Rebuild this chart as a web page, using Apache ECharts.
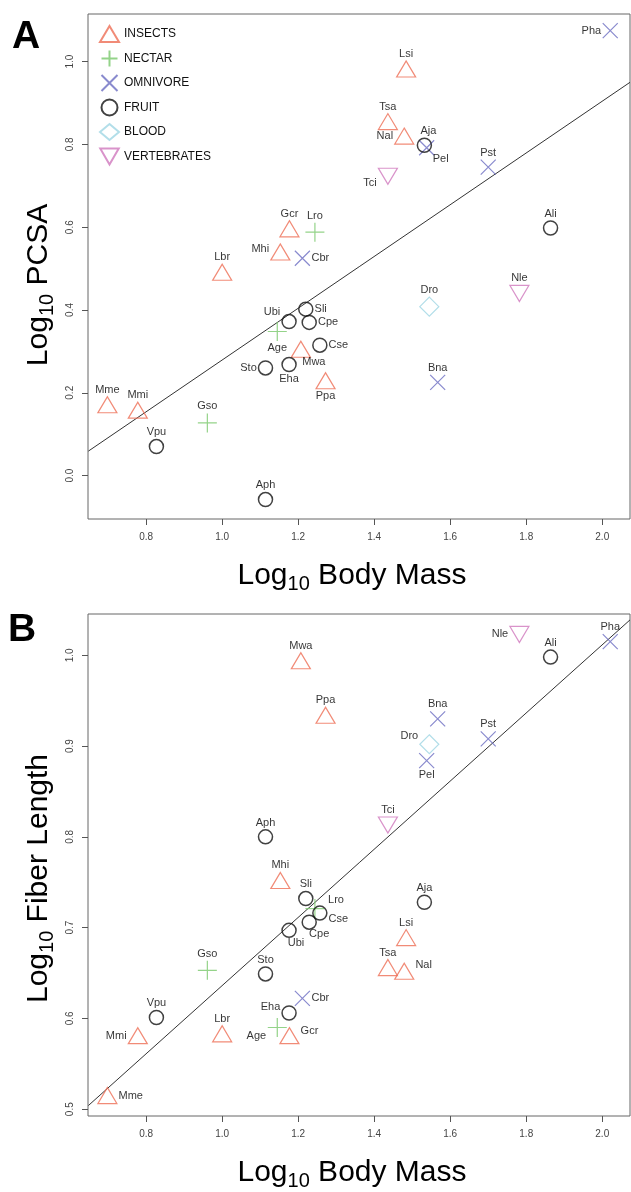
<!DOCTYPE html>
<html>
<head>
<meta charset="utf-8">
<script src="https://cdn.jsdelivr.net/npm/echarts@6/dist/echarts.min.js"></script>
<style>
  html, body { margin: 0; padding: 0; background: #fff; }
  #chart { width: 631px; height: 1192px; }
</style>
</head>
<body>
<div id="chart"></div>
<script>
// species, diet group and log10 values
const species = ['Mme','Mmi','Vpu','Gso','Lbr','Aph','Sto','Eha','Age','Ubi','Mhi','Gcr','Lro','Cbr','Sli','Cpe',
  'Cse','Mwa','Ppa','Tsa','Nal','Lsi','Tci','Aja','Pel','Pst','Dro','Bna','Nle','Ali','Pha'];
const diet = ['INSECTS','INSECTS','FRUIT','NECTAR','INSECTS','FRUIT','FRUIT','FRUIT','NECTAR','FRUIT','INSECTS',
  'INSECTS','NECTAR','OMNIVORE','FRUIT','FRUIT','FRUIT','INSECTS','INSECTS','INSECTS','INSECTS','INSECTS',
  'VERTEBRATES','FRUIT','OMNIVORE','OMNIVORE','BLOOD','OMNIVORE','VERTEBRATES','FRUIT','OMNIVORE'];
const logBodyMass = [0.698,0.778,0.827,0.961,1.000,1.114,1.114,1.176,1.145,1.176,1.153,1.177,1.244,1.211,1.220,1.229,
  1.257,1.207,1.272,1.436,1.479,1.484,1.436,1.532,1.538,1.700,1.545,1.567,1.782,1.864,2.021];
const logPCSA = [0.171,0.158,0.070,0.127,0.491,-0.058,0.260,0.268,0.348,0.372,0.540,0.596,0.588,0.525,0.402,0.370,
  0.315,0.305,0.229,0.855,0.820,0.982,0.723,0.798,0.792,0.745,0.408,0.225,0.440,0.598,1.075];
const logFiberLength = [0.515,0.581,0.601,0.653,0.583,0.800,0.649,0.606,0.590,0.697,0.752,0.581,0.721,0.622,0.732,
  0.706,0.716,0.994,0.934,0.656,0.652,0.689,0.813,0.728,0.884,0.908,0.902,0.930,1.023,0.998,1.015];

// regression lines (end points at the axis limits)
const fitPCSA = [[0.648, 0.059], [2.073, 0.950]];
const fitFiber = [[0.648, 0.504], [2.073, 1.039]];

const groups = ['INSECTS','NECTAR','OMNIVORE','FRUIT','BLOOD','VERTEBRATES'];
const xTicks = [0.8, 1.0, 1.2, 1.4, 1.6, 1.8, 2.0];
const yTicksPCSA = [0.0, 0.2, 0.4, 0.6, 0.8, 1.0];
const yTicksFiber = [0.5, 0.6, 0.7, 0.8, 0.9, 1.0];

// styling
const FONT = '"Liberation Sans", Arial, Helvetica, sans-serif';
const groupStyle = {
  INSECTS:     { symbol: 'triangle', size: [19, 16], color: '#ee6e55' },
  NECTAR:      { symbol: 'path://M5,0L5,10M0,5L10,5', size: 19, color: '#79c86b' },
  OMNIVORE:    { symbol: 'path://M0,0L10,10M10,0L0,10', size: 15, color: '#6b6dc2' },
  FRUIT:       { symbol: 'circle', size: 14, color: '#111111' },
  BLOOD:       { symbol: 'diamond', size: 19, color: '#9fd6e3' },
  VERTEBRATES: { symbol: 'path://M0,0L10,0L5,8.66Z', size: [19, 16], color: '#cf78bd' }
};
// label placement: position or [position, dx, dy]; default 'top'
const labelsPCSA = {
  Sto: 'left', Eha: 'bottom', Age: 'bottom', Ubi: ['left', 0, -10], Mhi: ['left', 0, -3], Cbr: 'right',
  Sli: 'right', Cpe: 'right', Cse: 'right', Mwa: ['bottom', 13, -2], Ppa: 'bottom', Nal: 'left',
  Tci: ['left', 0, 7], Aja: ['top', 4, 0], Pel: ['right', -3, 11], Pha: 'left'
};
const labelsFiber = {
  Mme: 'right', Mmi: 'left', Eha: ['left', 0, -6], Age: ['left', 0, 8], Gcr: ['right', 0, -5], Cbr: 'right',
  Ubi: ['bottom', 7, -2], Cpe: ['bottom', 10, -2], Cse: ['right', 0, 6], Lro: ['right', 2, -9],
  Nal: ['right', 0, -6], Pel: 'bottom', Dro: ['left', 0, -8], Nle: 'left'
};

function groupData(ys, labelMap, group) {
  const out = [];
  species.forEach((s, i) => {
    if (diet[i] !== group) return;
    const p = labelMap[s] || 'top';
    const pos = Array.isArray(p) ? p : [p, 0, 0];
    out.push({
      name: s,
      value: [logBodyMass[i], ys[i]],
      label: { position: pos[0], offset: [pos[1], pos[2]] }
    });
  });
  return out;
}

function panelSeries(idx, ys, labelMap, fit) {
  const list = groups.map(g => ({
    type: 'scatter',
    name: g,
    xAxisIndex: idx,
    yAxisIndex: idx,
    symbol: groupStyle[g].symbol,
    symbolSize: groupStyle[g].size,
    itemStyle: {
      color: 'transparent',
      borderColor: groupStyle[g].color,
      borderWidth: g === 'FRUIT' ? 1.5 : 1.2
    },
    label: {
      show: true,
      formatter: '{b}',
      color: '#000',
      fontSize: 11,
      fontFamily: FONT,
      distance: 1
    },
    emphasis: { disabled: true },
    data: groupData(ys, labelMap, g)
  }));
  list.push({
    type: 'line',
    xAxisIndex: idx,
    yAxisIndex: idx,
    data: fit,
    showSymbol: false,
    silent: true,
    lineStyle: { color: '#333', width: 1 },
    z: 1
  });
  return list;
}

function titleRich(shift) {
  return {
    a: { fontSize: 30, lineHeight: 36, fontFamily: FONT, color: '#000' },
    s: { fontSize: 20, lineHeight: 16, verticalAlign: 'bottom', fontFamily: FONT, color: '#000' },
    e: { fontSize: 30, lineHeight: 36, fontFamily: FONT, color: '#000', padding: [0, shift, 0, 0] }
  };
}

function xAxisCfg(gridIndex) {
  return {
    type: 'value',
    gridIndex: gridIndex,
    min: 0.647,
    max: 2.073,
    name: '{a|Log}{s|10}{e| Body Mass}',
    nameLocation: 'middle',
    nameGap: 39,
    nameTextStyle: { rich: titleRich(14) },
    axisLine: { show: false, onZero: false },
    splitLine: { show: false },
    axisTick: { show: true, inside: false, length: 6, customValues: xTicks, lineStyle: { color: '#555' } },
    axisLabel: {
      customValues: xTicks,
      margin: 13,
      fontSize: 10,
      color: '#444',
      fontFamily: FONT,
      formatter: v => v.toFixed(1)
    }
  };
}

function yAxisCfg(gridIndex, min, max, ticks, title, shift) {
  return {
    type: 'value',
    gridIndex: gridIndex,
    min: min,
    max: max,
    name: title,
    nameLocation: 'middle',
    nameGap: 28,
    nameTextStyle: { rich: titleRich(shift) },
    axisLine: { show: false, onZero: false },
    splitLine: { show: false },
    axisTick: { show: true, inside: false, length: 6, customValues: ticks, lineStyle: { color: '#555' } },
    axisLabel: {
      customValues: ticks,
      rotate: 90,
      margin: 13,
      fontSize: 10,
      color: '#444',
      fontFamily: FONT,
      formatter: v => v.toFixed(1)
    }
  };
}

const chart = echarts.init(document.getElementById('chart'), null, { renderer: 'canvas' });
chart.setOption({
  animation: false,
  backgroundColor: '#fff',
  grid: [
    { left: 88, top: 14, width: 542, height: 505, show: true, borderColor: '#666', borderWidth: 1, backgroundColor: 'transparent' },
    { left: 88, top: 614, width: 542, height: 505, show: true, borderColor: '#666', borderWidth: 1, backgroundColor: 'transparent' }
  ],
  xAxis: [xAxisCfg(0), xAxisCfg(1)],
  yAxis: [
    yAxisCfg(0, -0.105, 1.115, yTicksPCSA, '{a|Log}{s|10}{e| PCSA}', 37),
    yAxisCfg(1, 0.4925, 1.0455, yTicksFiber, '{a|Log}{s|10}{e| Fiber Length}', 27)
  ],
  legend: {
    orient: 'vertical',
    left: 94,
    top: 20,
    itemWidth: 19,
    itemHeight: 16,
    itemGap: 6.5,
    selectedMode: false,
    data: groups,
    textStyle: { fontSize: 12, color: '#111', fontFamily: FONT }
  },
  graphic: [
    { type: 'text', left: 12, top: 18, style: { text: 'A', font: 'bold 39px ' + FONT, fill: '#000' } },
    { type: 'text', left: 8, top: 611, style: { text: 'B', font: 'bold 39px ' + FONT, fill: '#000' } }
  ],
  series: panelSeries(0, logPCSA, labelsPCSA, fitPCSA).concat(panelSeries(1, logFiberLength, labelsFiber, fitFiber))
});
</script>
</body>
</html>
